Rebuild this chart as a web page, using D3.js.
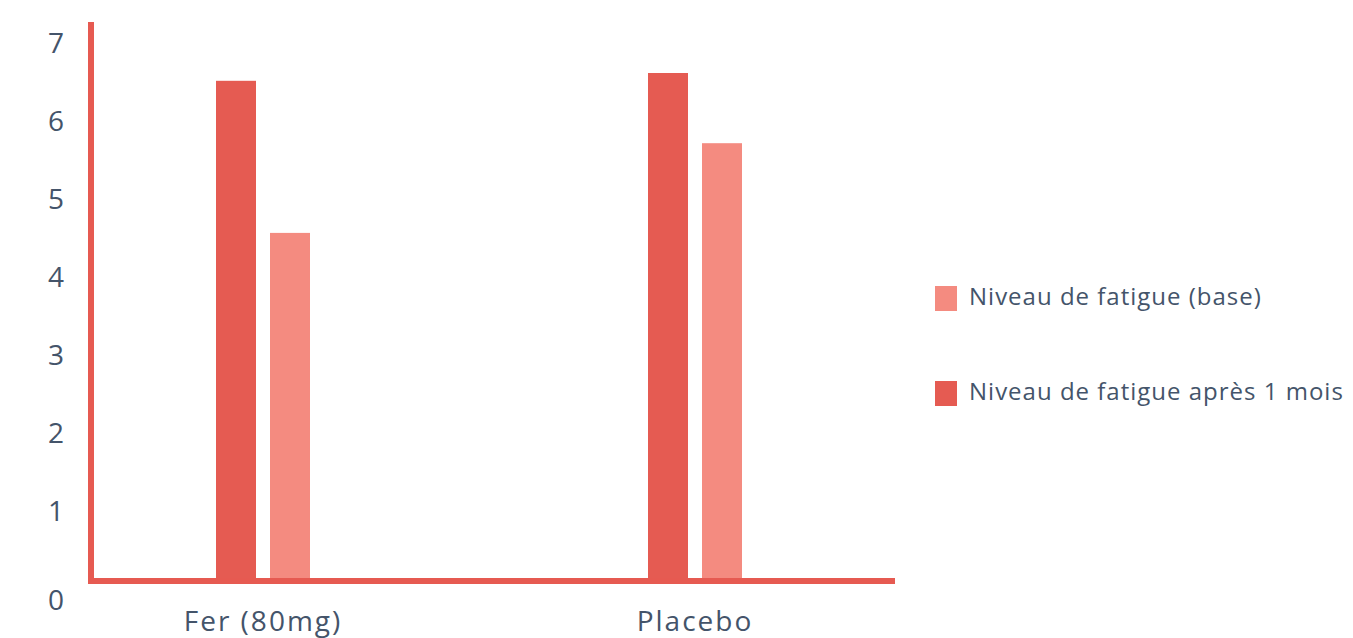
<!DOCTYPE html>
<meta charset="utf-8">
<head>
  <style>
    body { margin: 0; background: #fff; }
    text { font-family: "Open Sans", Lato, sans-serif; fill: #44546a; }
  </style>
  <script src="https://cdn.jsdelivr.net/npm/d3@7"></script>
</head>
<body>
<script>
// chart data
var groups = ["Fer (80mg)", "Placebo"];
var apres = [6.4, 6.5];     // Niveau de fatigue après 1 mois
var base = [4.45, 5.6];     // Niveau de fatigue (base)
var yTicks = [0, 1, 2, 3, 4, 5, 6, 7];
var legendLabels = ["Niveau de fatigue (base)", "Niveau de fatigue après 1 mois"];

var width = 1353, height = 638;
var darkRed = "#e55b52", lightRed = "#f48b80", axisRed = "#e65a51";

var svg = d3.select("body").append("svg")
    .attr("width", width)
    .attr("height", height);

var x = d3.scaleBand().domain(groups).range([47, 911]);
var y = d3.scaleLinear().domain([0, 7]).range([580, 34]);

var barW = 40, gap = 7;

// bars: dark (après) left, light (base) right
svg.append("g").selectAll("rect")
    .data(groups)
    .enter().append("rect")
      .attr("x", function(d) { return x(d) + x.bandwidth() / 2 - gap - barW; })
      .attr("y", function(d, i) { return y(apres[i]); })
      .attr("width", barW)
      .attr("height", function(d, i) { return y(0) - y(apres[i]); })
      .attr("fill", darkRed);

svg.append("g").selectAll("rect")
    .data(groups)
    .enter().append("rect")
      .attr("x", function(d) { return x(d) + x.bandwidth() / 2 + gap; })
      .attr("y", function(d, i) { return y(base[i]); })
      .attr("width", barW)
      .attr("height", function(d, i) { return y(0) - y(base[i]); })
      .attr("fill", lightRed);

// axis lines
svg.append("line")
    .attr("x1", 91).attr("x2", 91)
    .attr("y1", 22).attr("y2", 583)
    .attr("stroke", axisRed).attr("stroke-width", 6);
svg.append("line")
    .attr("x1", 88).attr("x2", 895)
    .attr("y1", 581).attr("y2", 581)
    .attr("stroke", axisRed).attr("stroke-width", 6);

// y tick labels (the 0 sits lower than the others in the original)
svg.append("g").selectAll("text")
    .data(yTicks)
    .enter().append("text")
      .attr("x", 64)
      .attr("y", function(d) { return y(d) + 12 + (d === 0 ? 11 : 0); })
      .attr("text-anchor", "end")
      .attr("dominant-baseline", "middle")
      .style("font-size", "28px")
      .text(function(d) { return d; });

// x labels
svg.append("g").selectAll("text")
    .data(groups)
    .enter().append("text")
      .attr("x", function(d) { return x(d) + x.bandwidth() / 2; })
      .attr("y", 631)
      .attr("text-anchor", "middle")
      .style("font-size", "28px")
      .style("letter-spacing", "2px")
      .text(function(d) { return d; });

// legend
var legend = svg.selectAll(".legend")
    .data(legendLabels)
    .enter().append("g")
      .attr("class", "legend")
      .attr("transform", function(d, i) { return "translate(935," + (286 + i * 95) + ")"; });

legend.append("rect")
    .attr("width", 22)
    .attr("height", 25)
    .attr("fill", function(d, i) { return i === 0 ? lightRed : darkRed; });

legend.append("text")
    .attr("x", 34)
    .attr("y", 19)
    .style("font-size", "24px")
    .style("letter-spacing", "1px")
    .text(function(d) { return d; });
</script>
</body>
